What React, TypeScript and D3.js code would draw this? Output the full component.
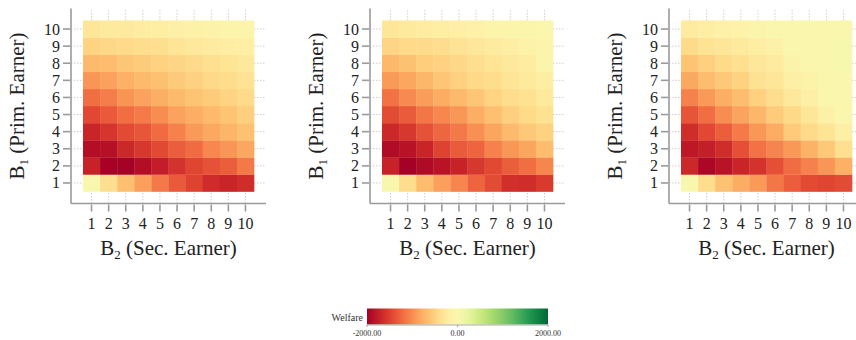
import React from "react";
import * as d3 from "d3";

const b2Values = [1, 2, 3, 4, 5, 6, 7, 8, 9, 10];
const b1Values = [1, 2, 3, 4, 5, 6, 7, 8, 9, 10];
const tickLabels = ["1", "2", "3", "4", "5", "6", "7", "8", "9", "10"];

// rows indexed by B1 = 1..10, columns B2 = 1..10
const panel1 = [
  [-20, -380, -650, -880, -1130, -1330, -1480, -1650, -1700, -1640],
  [-1720, -1980, -1990, -1880, -1760, -1600, -1470, -1380, -1300, -1130],
  [-1880, -1870, -1680, -1560, -1440, -1310, -1220, -1040, -950, -830],
  [-1700, -1580, -1430, -1350, -1220, -1080, -920, -820, -730, -640],
  [-1450, -1330, -1200, -1120, -1000, -860, -780, -700, -620, -530],
  [-1200, -1100, -960, -860, -780, -700, -620, -560, -480, -420],
  [-950, -870, -760, -700, -650, -570, -510, -440, -400, -340],
  [-700, -680, -600, -560, -500, -470, -420, -370, -330, -280],
  [-480, -450, -430, -400, -380, -330, -280, -240, -210, -190],
  [-300, -260, -250, -220, -200, -170, -150, -120, -100, -90],
];
const panel2 = [
  [-20, -400, -680, -880, -1050, -1260, -1420, -1620, -1640, -1540],
  [-1720, -2000, -1920, -1840, -1720, -1560, -1440, -1300, -1200, -1050],
  [-1900, -1850, -1700, -1480, -1320, -1260, -1080, -940, -840, -680],
  [-1680, -1560, -1380, -1250, -1130, -980, -840, -700, -590, -500],
  [-1420, -1320, -1150, -1040, -940, -780, -650, -530, -430, -360],
  [-1180, -1020, -900, -800, -700, -600, -480, -400, -360, -270],
  [-920, -830, -720, -610, -520, -440, -400, -320, -260, -200],
  [-710, -640, -540, -500, -450, -380, -330, -280, -220, -80],
  [-470, -430, -420, -390, -340, -290, -240, -200, -120, -100],
  [-300, -260, -220, -200, -180, -150, -100, -80, -70, -60],
];
const panel3 = [
  [-20, -400, -640, -790, -920, -1150, -1310, -1430, -1470, -1420],
  [-1680, -1940, -1840, -1700, -1600, -1400, -1210, -1080, -950, -760],
  [-1800, -1750, -1640, -1400, -1180, -1060, -930, -750, -580, -370],
  [-1640, -1450, -1300, -1120, -940, -800, -560, -420, -320, -180],
  [-1360, -1200, -1000, -850, -720, -560, -440, -300, -160, -30],
  [-1080, -920, -780, -680, -520, -390, -280, -170, -60, -40],
  [-820, -680, -590, -500, -350, -310, -180, -120, -50, -40],
  [-620, -520, -430, -370, -290, -240, -110, -60, -40, 60],
  [-420, -340, -300, -260, -200, -160, -60, -40, -30, 60],
  [-240, -200, -160, -140, -80, -60, -50, -40, -30, -30],
];
const panels = [panel1, panel2, panel3];
const panelOffsets = [0, 299, 598];

const legendTicks = [-2000, 0, 2000];
const legendTitle = "Welfare";

const FONT = "'Liberation Serif', 'DejaVu Serif', serif";
const AXIS = "#9a9a9a";

const color = d3
  .scaleSequential(d3.interpolateRdYlGn)
  .domain([-2000, 2000]);

const fmt = (v: number) => d3.format(".2f")(v).replace("\u2212", "-");

function Panel({ data, dx }: { data: number[][]; dx: number }) {
  const x = d3.scaleLinear().domain([-0.2, 11.2]).range([71 + dx, 266 + dx]);
  const y = d3.scaleLinear().domain([-0.2, 11.2]).range([203.5, 8.5]);
  const cw = x(1) - x(0);
  const ch = y(0) - y(1);
  const x0 = x.range()[0];
  const x1 = x.range()[1];
  const y0 = y.range()[0];
  const y1 = y.range()[1];
  const cx = (x(0.5) + x(10.5)) / 2;
  const cy = (y(0.5) + y(10.5)) / 2;
  return (
    <g>
      {b1Values.map((v) => (
        <line
          key={"gh" + v}
          x1={x0}
          x2={x1}
          y1={y(v)}
          y2={y(v)}
          stroke="#cfcfcf"
          strokeWidth={1}
          strokeDasharray="1.5,1.5"
        />
      ))}
      {b2Values.map((v) => (
        <line
          key={"gv" + v}
          x1={x(v)}
          x2={x(v)}
          y1={y0}
          y2={y1}
          stroke="#cfcfcf"
          strokeWidth={1}
          strokeDasharray="1.5,1.5"
        />
      ))}
      {data.map((row, i) =>
        row.map((val, j) => (
          <rect
            key={i + "-" + j}
            x={x(b2Values[j] - 0.5)}
            y={y(b1Values[i] + 0.5)}
            width={cw + 0.3}
            height={ch + 0.3}
            fill={color(val)}
          />
        ))
      )}
      <line x1={x0} x2={x0} y1={y1} y2={y0} stroke={AXIS} strokeWidth={1.6} />
      <line x1={x0} x2={x1} y1={y0} y2={y0} stroke={AXIS} strokeWidth={1.6} />
      {b1Values.map((v, i) => (
        <g key={"yt" + v}>
          <line x1={x0 - 8} x2={x0 - 1} y1={y(v)} y2={y(v)} stroke={AXIS} strokeWidth={1.6} />
          <text
            x={x0 - 11}
            y={y(v)}
            textAnchor="end"
            dominantBaseline="central"
            fontFamily={FONT}
            fontSize={16}
            fill="#222"
          >
            {tickLabels[i]}
          </text>
        </g>
      ))}
      {b2Values.map((v, i) => (
        <g key={"xt" + v}>
          <line x1={x(v)} x2={x(v)} y1={y0 + 1} y2={y0 + 8} stroke={AXIS} strokeWidth={1.6} />
          <text
            x={x(v)}
            y={y0 + 19.5}
            textAnchor="middle"
            dominantBaseline="central"
            fontFamily={FONT}
            fontSize={16}
            fill="#222"
          >
            {tickLabels[i]}
          </text>
        </g>
      ))}
      <text
        x={cx}
        y={254.5}
        textAnchor="middle"
        fontFamily={FONT}
        fontSize={21}
        fill="#222"
      >
        B<tspan fontSize={13} dy={4}>2</tspan>
        <tspan dy={-4}> (Sec. Earner)</tspan>
      </text>
      <text
        transform={`translate(${dx + 23.5},${cy}) rotate(-90)`}
        textAnchor="middle"
        fontFamily={FONT}
        fontSize={21}
        fill="#222"
      >
        B<tspan fontSize={13} dy={4}>1</tspan>
        <tspan dy={-4}> (Prim. Earner)</tspan>
      </text>
    </g>
  );
}

function Legend() {
  const lx = d3.scaleLinear().domain([-2000, 2000]).range([367, 548]);
  const stops = d3.range(0, 1.0001, 0.05);
  return (
    <g>
      <defs>
        <linearGradient id="welfareGrad" x1="0" x2="1" y1="0" y2="0">
          {stops.map((t) => (
            <stop
              key={t}
              offset={`${t * 100}%`}
              stopColor={color(-2000 + t * 4000)}
            />
          ))}
        </linearGradient>
      </defs>
      <text
        x={363}
        y={317}
        textAnchor="end"
        dominantBaseline="central"
        fontFamily={FONT}
        fontSize={10}
        fill="#333"
      >
        {legendTitle}
      </text>
      <rect x={lx(-2000)} y={308.5} width={lx(2000) - lx(-2000)} height={16} fill="url(#welfareGrad)" />
      <line x1={lx(-2000)} x2={lx(2000)} y1={325} y2={325} stroke="#aaa" strokeWidth={1} />
      {legendTicks.map((t) => (
        <g key={t}>
          <line x1={lx(t)} x2={lx(t)} y1={324.5} y2={327} stroke="#aaa" strokeWidth={1} />
          <text
            x={lx(t)}
            y={333}
            textAnchor="middle"
            dominantBaseline="central"
            fontFamily={FONT}
            fontSize={8}
            fill="#333"
          >
            {fmt(t)}
          </text>
        </g>
      ))}
    </g>
  );
}

export default function App() {
  return (
    <svg
      width={856}
      height={340}
      style={{ position: "absolute", left: 0, top: 0, background: "#fff" }}
    >
      <rect width={856} height={340} fill="#fff" />
      {panels.map((p, i) => (
        <Panel key={i} data={p} dx={panelOffsets[i]} />
      ))}
      <Legend />
    </svg>
  );
}
